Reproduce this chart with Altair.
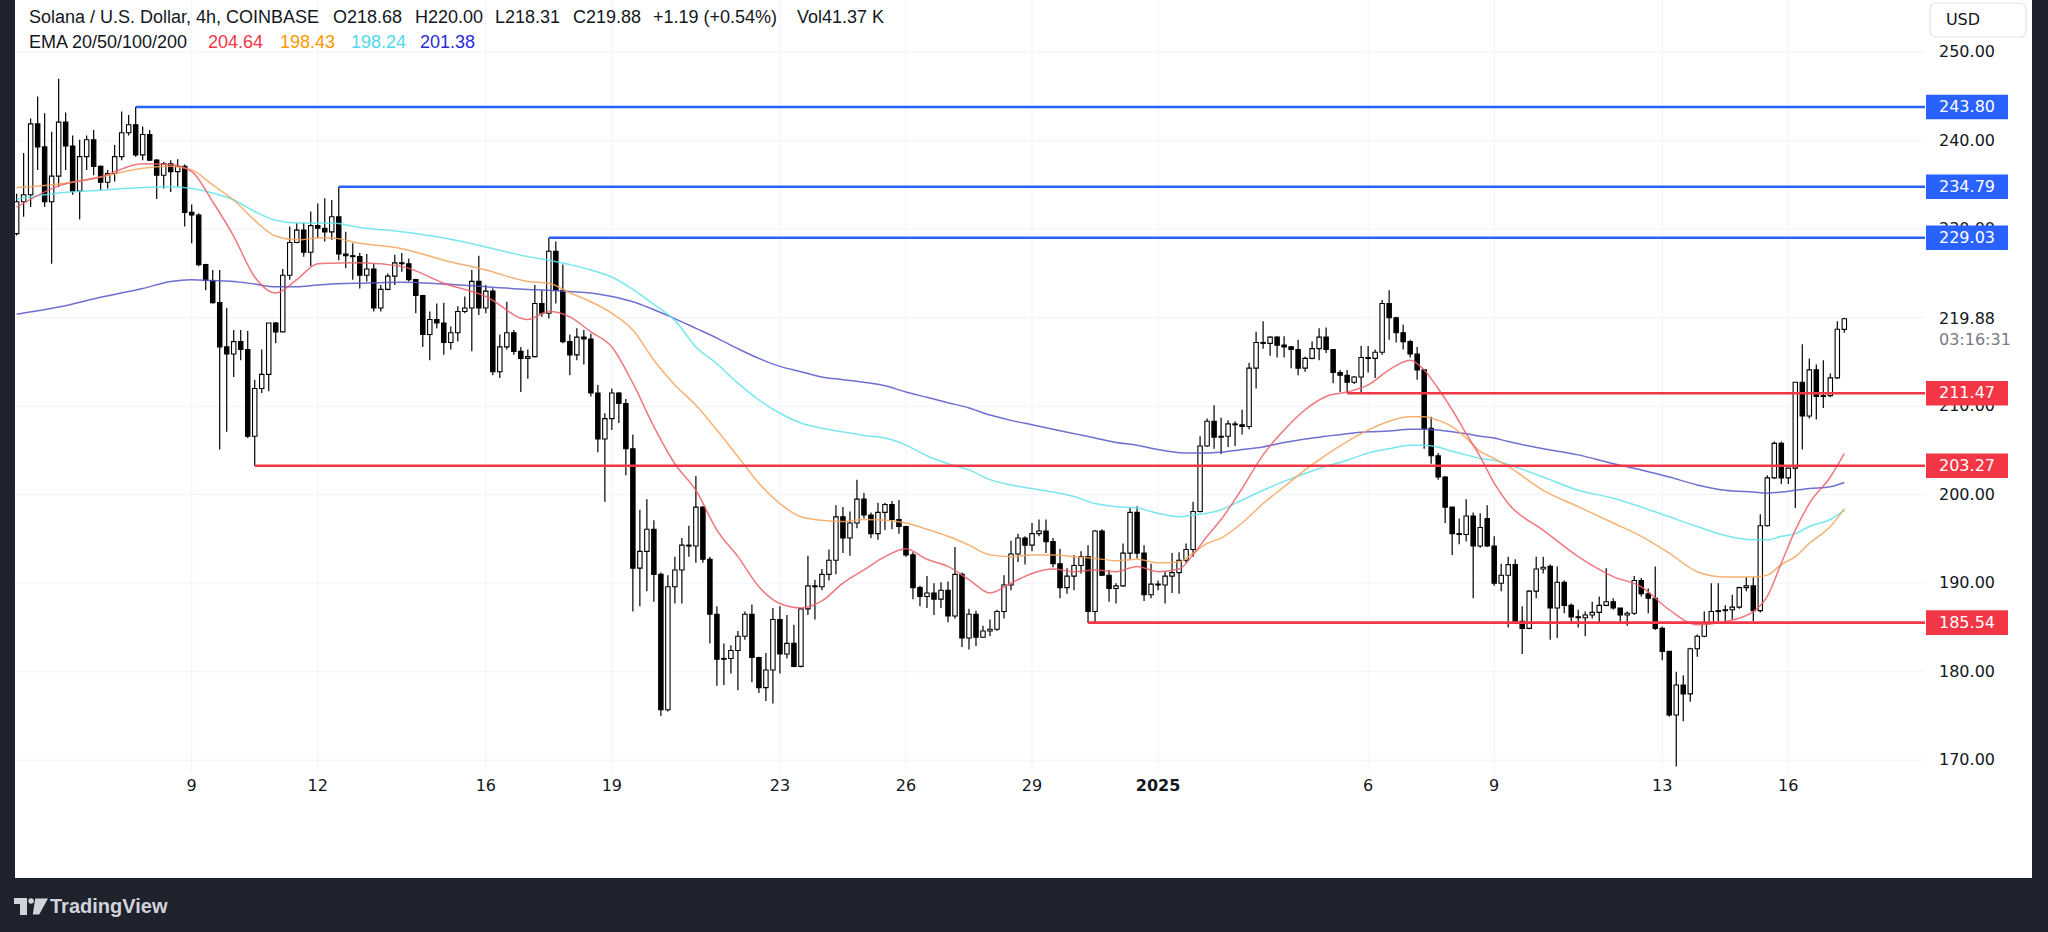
import altair as alt
import pandas as pd

# ---------------- data ----------------
first_idx = -25  # candle index 0 = Dec 9 00:00, 4h candles

opens = [
    229.5, 233.1, 233.9, 241.9, 239.3, 233.1, 236.0, 242.1, 239.4, 234.3,
    238.2, 240.1, 237.1, 235.3, 236.3, 238.2, 240.9, 241.8, 238.4, 240.7,
    237.8, 236.1, 237.4, 236.5, 237.1, 231.9, 231.6, 226.0, 224.2, 221.7,
    216.7, 215.9, 217.3, 216.4, 206.6, 212.0, 213.6, 219.4, 218.4, 224.8,
    228.5, 229.9, 227.4, 230.4, 230.1, 229.7, 231.4, 227.2, 227.0, 226.9,
    224.8, 225.5, 221.1, 223.2, 224.7, 226.2, 226.1, 224.3, 222.5, 218.1,
    219.8, 219.4, 217.2, 218.3, 220.7, 221.1, 224.1, 221.1, 223.0, 213.9,
    216.7, 218.3, 216.2, 215.4, 215.6, 221.6, 220.5, 227.5, 223.1, 217.3,
    215.8, 217.8, 217.6, 211.5, 206.3, 208.6, 211.5, 210.3, 205.2, 191.7,
    193.6, 196.1, 191.0, 175.7, 189.6, 191.5, 194.3, 194.2, 198.6, 192.7,
    186.5, 181.4, 181.5, 182.4, 184.0, 186.5, 181.6, 178.2, 180.2, 185.9,
    182.0, 183.2, 180.6, 187.1, 189.7, 189.6, 191.0, 192.6, 197.5, 195.1,
    196.8, 199.5, 197.7, 195.6, 198.0, 198.9, 197.2, 196.4, 193.2, 189.5,
    188.5, 188.9, 188.2, 189.2, 186.3, 191.0, 183.8, 186.5, 183.9, 184.6,
    184.8, 186.8, 189.8, 193.3, 195.1, 194.3, 195.6, 195.9, 194.7, 192.2,
    189.5, 190.8, 192.0, 193.0, 186.8, 195.9, 190.9, 189.4, 189.7, 193.4,
    198.0, 193.4, 188.7, 189.9, 189.8, 190.8, 191.2, 192.6, 193.8, 198.1,
    205.5, 208.3, 206.5, 206.6, 208.0, 207.9, 207.7, 214.3, 217.2, 217.1,
    217.8, 216.9, 216.7, 216.4, 214.3, 215.4, 216.5, 217.8, 216.4, 213.8,
    213.5, 212.7, 213.3, 215.5, 215.4, 216.1, 221.6, 220.0, 218.3, 217.3,
    215.9, 214.1, 207.5, 204.4, 202.0, 198.6, 195.6, 195.5, 197.6, 194.2,
    197.3, 194.2, 190.0, 190.9, 192.1, 185.7, 184.9, 189.1, 191.6, 191.9,
    187.2, 190.1, 187.5, 186.2, 186.1, 186.4, 186.7, 187.5, 187.9, 187.2,
    186.4, 186.6, 190.3, 188.8, 188.3, 184.9, 182.3, 175.1, 178.5, 177.5,
    182.6, 184.0, 185.5, 186.8, 186.9, 187.0, 187.3, 189.5, 189.7, 186.9,
    196.5, 201.9, 205.8, 201.9, 203.0, 212.7, 208.9, 214.1, 211.1, 211.2,
    213.2, 218.68,
]
highs = [
    234.0, 238.6, 242.5, 245.0, 243.1, 241.0, 247.0, 243.2, 240.6, 240.1,
    240.6, 241.2, 237.2, 236.7, 239.5, 243.3, 242.9, 243.8, 241.6, 241.2,
    237.9, 237.6, 237.8, 237.9, 237.3, 232.8, 231.8, 226.1, 225.4, 225.4,
    221.1, 218.6, 218.6, 218.5, 213.0, 216.4, 219.4, 219.5, 225.5, 230.3,
    230.7, 230.7, 232.0, 232.9, 233.5, 233.3, 234.79, 229.7, 228.4, 227.3,
    227.2, 226.1, 223.7, 225.0, 227.1, 227.3, 226.7, 224.4, 222.6, 220.7,
    221.6, 221.7, 219.0, 221.3, 222.4, 225.4, 227.0, 223.7, 223.3, 218.1,
    221.8, 218.6, 216.7, 216.4, 223.7, 223.1, 229.03, 228.6, 226.0, 218.1,
    218.8, 218.6, 218.2, 212.4, 209.2, 212.0, 211.6, 210.8, 206.8, 198.3,
    199.5, 197.1, 191.2, 190.9, 193.0, 195.1, 196.5, 202.1, 198.7, 193.0,
    187.4, 183.2, 183.0, 184.6, 186.8, 187.6, 181.7, 182.1, 187.2, 187.4,
    186.4, 185.3, 187.2, 193.1, 190.4, 191.6, 193.8, 198.8, 198.6, 198.1,
    201.7, 200.2, 198.0, 199.1, 199.1, 199.3, 199.4, 196.5, 193.5, 189.7,
    190.8, 190.0, 190.1, 190.2, 194.1, 191.2, 187.1, 186.9, 185.2, 185.9,
    187.0, 190.9, 194.8, 195.6, 195.3, 196.8, 197.2, 197.2, 195.1, 193.9,
    191.7, 193.2, 193.6, 194.3, 196.0, 196.1, 191.5, 190.0, 194.5, 198.5,
    198.7, 194.3, 192.2, 190.3, 191.3, 193.4, 193.5, 194.5, 199.2, 206.6,
    208.6, 210.1, 208.7, 208.4, 208.3, 209.6, 214.9, 218.4, 219.6, 217.9,
    217.9, 217.9, 216.8, 217.5, 215.6, 217.3, 218.8, 218.9, 216.4, 214.1,
    214.1, 213.4, 216.8, 216.8, 216.4, 222.0, 223.1, 220.1, 219.2, 217.5,
    216.7, 214.2, 208.8, 204.7, 202.1, 198.6, 197.3, 199.5, 198.0, 197.9,
    198.8, 195.3, 192.2, 193.0, 192.7, 187.4, 189.2, 193.0, 193.0, 192.1,
    191.9, 190.3, 187.7, 187.0, 186.8, 187.9, 188.5, 191.7, 188.3, 187.2,
    186.8, 190.8, 190.6, 189.4, 191.9, 185.1, 182.3, 180.0, 179.6, 182.7,
    184.2, 186.8, 190.0, 190.0, 187.5, 188.7, 189.6, 190.7, 190.7, 197.8,
    202.2, 206.0, 206.0, 203.0, 212.7, 217.0, 215.4, 214.7, 215.2, 213.7,
    219.6, 220.00,
]
lows = [
    229.3, 231.4, 232.5, 236.7, 232.5, 226.1, 234.8, 236.7, 233.9, 231.1,
    236.7, 236.1, 234.4, 234.6, 235.4, 237.8, 240.6, 238.2, 237.8, 237.7,
    233.4, 234.6, 234.2, 234.8, 230.3, 228.4, 225.8, 223.1, 221.6, 205.1,
    207.1, 213.3, 215.2, 206.4, 203.27, 211.5, 211.7, 217.1, 218.4, 224.3,
    228.4, 226.9, 225.8, 229.0, 228.6, 228.8, 226.5, 225.6, 224.3, 223.3,
    224.1, 220.7, 220.7, 223.1, 223.7, 225.2, 224.1, 220.5, 216.7, 215.2,
    218.8, 215.8, 216.4, 217.3, 220.5, 216.2, 220.3, 220.5, 213.5, 213.2,
    216.4, 215.8, 211.6, 213.1, 215.5, 220.1, 219.9, 221.6, 217.1, 213.5,
    215.2, 214.7, 211.1, 204.8, 199.2, 207.3, 208.1, 202.2, 186.8, 187.4,
    189.1, 187.9, 175.0, 175.5, 187.7, 187.7, 193.0, 192.3, 192.3, 183.2,
    178.4, 178.5, 179.8, 177.9, 183.6, 178.8, 177.6, 176.7, 176.4, 179.8,
    181.5, 180.5, 180.5, 186.4, 185.9, 189.2, 190.3, 191.0, 193.4, 193.1,
    196.2, 197.3, 195.1, 194.9, 196.0, 196.1, 195.6, 193.0, 188.2, 187.4,
    187.2, 186.4, 187.2, 185.6, 186.0, 182.8, 182.5, 182.9, 183.8, 184.0,
    184.6, 186.0, 189.2, 192.4, 192.1, 193.6, 195.3, 193.4, 191.8, 188.3,
    188.8, 189.2, 191.1, 185.5, 185.5, 190.8, 187.9, 187.7, 189.6, 192.7,
    192.8, 188.0, 188.3, 189.2, 187.7, 188.9, 188.8, 192.3, 193.0, 198.0,
    205.4, 205.2, 204.6, 205.4, 205.5, 206.8, 207.4, 212.0, 216.5, 215.7,
    215.5, 215.5, 214.3, 213.5, 213.9, 215.3, 215.2, 216.0, 212.6, 211.6,
    211.47, 212.5, 211.5, 213.8, 213.2, 215.8, 217.5, 217.2, 216.4, 215.5,
    213.0, 205.2, 203.5, 201.7, 196.8, 193.2, 194.4, 194.7, 188.3, 194.0,
    194.1, 189.7, 189.1, 185.0, 185.5, 182.0, 184.8, 188.3, 191.1, 183.6,
    183.8, 186.6, 185.5, 185.0, 184.0, 186.0, 185.6, 187.4, 187.0, 185.5,
    185.2, 186.4, 188.5, 186.6, 184.7, 181.3, 174.9, 169.3, 174.4, 176.6,
    181.7, 183.9, 185.4, 185.7, 185.7, 185.9, 187.1, 189.1, 185.7, 186.7,
    196.4, 201.8, 201.2, 201.2, 198.5, 205.1, 208.6, 208.5, 209.8, 211.0,
    213.1, 218.31,
]
closes = [
    233.1, 233.9, 241.9, 239.3, 233.1, 236.0, 242.1, 239.4, 234.3, 238.2,
    240.1, 237.1, 235.3, 236.3, 238.2, 240.9, 241.8, 238.4, 240.7, 237.8,
    236.1, 237.4, 236.5, 237.1, 231.9, 231.6, 226.0, 224.2, 221.7, 216.7,
    215.9, 217.3, 216.4, 206.6, 212.0, 213.6, 219.4, 218.4, 224.8, 228.5,
    229.9, 227.4, 230.4, 230.1, 229.7, 231.4, 227.2, 227.0, 226.9, 224.8,
    225.5, 221.1, 223.2, 224.7, 226.2, 226.1, 224.3, 222.5, 218.1, 219.8,
    219.4, 217.2, 218.3, 220.7, 221.1, 224.1, 221.1, 223.0, 213.9, 216.7,
    218.3, 216.2, 215.4, 215.6, 221.6, 220.5, 227.5, 223.1, 217.3, 215.8,
    217.8, 217.6, 211.5, 206.3, 208.6, 211.5, 210.3, 205.2, 191.7, 193.6,
    196.1, 191.0, 175.7, 189.6, 191.5, 194.3, 194.2, 198.6, 192.7, 186.5,
    181.4, 181.5, 182.4, 184.0, 186.5, 181.6, 178.2, 180.2, 185.9, 182.0,
    183.2, 180.6, 187.1, 189.7, 189.6, 191.0, 192.6, 197.5, 195.1, 196.8,
    199.5, 197.7, 195.6, 198.0, 198.9, 197.2, 196.4, 193.2, 189.5, 188.5,
    188.9, 188.2, 189.2, 186.3, 191.0, 183.8, 186.5, 183.9, 184.6, 184.8,
    186.8, 189.8, 193.3, 195.1, 194.3, 195.6, 195.9, 194.7, 192.2, 189.5,
    190.8, 192.0, 193.0, 186.8, 195.9, 190.9, 189.4, 189.7, 193.4, 198.0,
    193.4, 188.7, 189.9, 189.8, 190.8, 191.2, 192.6, 193.8, 198.1, 205.5,
    208.3, 206.5, 206.6, 208.0, 207.9, 207.7, 214.3, 217.2, 217.1, 217.8,
    216.9, 216.7, 216.4, 214.3, 215.4, 216.5, 217.8, 216.4, 213.8, 213.5,
    212.7, 213.3, 215.5, 215.4, 216.1, 221.6, 220.0, 218.3, 217.3, 215.9,
    214.1, 207.5, 204.4, 202.0, 198.6, 195.6, 195.5, 197.6, 194.2, 196.3,
    194.2, 190.0, 190.9, 192.1, 185.7, 184.9, 189.1, 191.6, 191.8, 187.2,
    190.1, 187.5, 186.2, 186.1, 186.4, 186.7, 187.5, 187.9, 187.2, 186.4,
    186.6, 190.3, 188.8, 188.3, 184.9, 182.3, 175.1, 178.5, 177.5, 182.6,
    184.0, 185.5, 186.8, 186.9, 187.0, 187.3, 189.5, 189.7, 186.9, 196.5,
    201.9, 205.8, 201.9, 203.0, 212.7, 208.9, 214.1, 211.1, 211.2, 213.2,
    218.7, 219.88,
]

ema_idx = [-25, -19, -13, -7, -3, 0, 3, 6, 9, 12, 15, 18, 20, 24, 30, 36, 42, 48, 51, 54,
           57, 60, 63, 66, 69, 72, 75, 78, 81, 84, 87, 90, 93, 96, 99, 102, 105, 108, 111, 114,
           117, 120, 123, 126, 129, 132, 135, 138, 141, 143, 145, 147, 150, 153, 156, 159, 162, 165, 168, 171,
           174, 176, 178, 180, 182, 184, 186, 188, 193, 198, 203, 207, 211, 215, 219, 223, 225, 227, 229, 231,
           234, 236]
ema20 = [232.5, 234.9, 235.9, 237.4, 237.3, 236.5, 233.1, 229.2, 224.6, 222.8,
         224.3, 226.1, 226.15, 226.2, 225.8, 223.9, 222.4, 219.8, 220.7, 220.1,
         218.4, 216.7, 212.6, 207.7, 203.5, 200.5, 196.0, 193.0, 189.6, 187.7,
         187.2, 188.0, 190.0, 191.5, 193.0, 193.9, 192.7, 191.9, 190.4, 188.9,
         190.0, 191.1, 191.6, 191.3, 191.5, 191.3, 191.9, 191.3, 191.6, 193.2,
         195.3, 197.2, 200.7, 204.5, 207.3, 209.6, 211.1, 211.6, 212.4, 214.1,
         215.2, 214.1, 212.0, 209.6, 206.9, 204.3, 201.3, 199.0, 196.0, 193.0,
         190.75, 189.6, 187.0, 185.3, 185.66, 186.8, 188.5, 192.25, 196.0, 199.0,
         202.0, 204.64]
ema50 = [234.7, 235.1, 235.9, 236.9, 237.1, 236.7, 235.0, 233.3, 231.0, 229.2,
         228.8, 229.0, 229.0, 228.4, 227.8, 226.5, 225.4, 224.1, 223.9, 222.8,
         221.8, 220.5, 218.6, 215.2, 212.4, 210.1, 207.3, 204.3, 201.3, 199.0,
         197.5, 197.1, 196.96, 197.2, 197.1, 196.8, 196.1, 195.3, 194.3, 193.2,
         193.0, 193.2, 193.2, 193.0, 192.8, 192.55, 192.7, 192.3, 192.4, 193.4,
         194.5, 195.1, 196.8, 199.0, 200.9, 202.8, 204.5, 206.0, 207.3, 208.3,
         208.8, 208.8, 208.4, 207.7, 206.4, 204.9, 204.1, 203.2, 200.5, 198.65,
         196.8, 195.3, 193.4, 191.3, 190.7, 190.7, 190.9, 192.1, 193.0, 194.5,
         196.4, 198.43]
ema100 = [233.4, 234.1, 234.4, 234.7, 234.8, 234.6, 234.1, 233.3, 232.0, 231.0,
          230.7, 230.7, 230.7, 230.2, 229.7, 229.0, 228.0, 226.9, 226.5, 226.0,
          225.4, 224.6, 223.2, 221.5, 219.7, 216.7, 214.8, 212.6, 210.7, 209.2,
          208.1, 207.5, 207.1, 206.7, 206.4, 205.6, 204.4, 203.5, 202.8, 201.7,
          201.1, 200.7, 200.3, 199.8, 199.0, 198.65, 198.5, 197.9, 197.5, 197.7,
          197.9, 198.3, 199.4, 200.5, 201.5, 202.4, 203.2, 203.9, 204.7, 205.2,
          205.6, 205.6, 205.4, 204.9, 204.5, 204.1, 203.9, 203.4, 202.0, 200.5,
          199.6, 198.6, 197.5, 196.4, 195.4, 194.9, 194.9, 195.3, 195.6, 196.4,
          197.2, 198.24]
ema200 = [220.4, 221.2, 222.3, 223.3, 224.1, 224.3, 224.2, 224.1, 223.8, 223.5,
          223.5, 223.7, 223.8, 223.9, 224.0, 223.8, 223.5, 223.2, 223.1, 222.95,
          222.8, 222.4, 221.8, 220.9, 219.9, 218.8, 217.7, 216.5, 215.4, 214.5,
          213.9, 213.3, 213.0, 212.7, 212.3, 211.6, 211.0, 210.4, 209.8, 209.0,
          208.4, 207.9, 207.4, 206.9, 206.4, 205.9, 205.6, 205.1, 204.75, 204.7,
          204.7, 204.8, 205.1, 205.4, 205.9, 206.3, 206.6, 206.9, 207.1, 207.2,
          207.4, 207.4, 207.3, 207.1, 206.9, 206.6, 206.4, 206.0, 205.2, 204.5,
          203.5, 202.8, 202.0, 201.1, 200.5, 200.3, 200.2, 200.3, 200.5, 200.7,
          200.9, 201.38]

level_prices = [243.80, 234.79, 229.03, 211.47, 203.27, 185.54]
level_start = [-8, 21, 51, 165, 9, 128]
level_kind = ["blue", "blue", "blue", "red", "red", "red"]

price_ticks = [250, 240, 230, 210, 200, 190, 180, 170]
grid_prices = [250, 240, 230, 220, 210, 200, 190, 180, 170]
day_idx = [0, 18, 42, 60, 84, 102, 120, 168, 186, 210, 228]
day_labels = ["9", "12", "16", "19", "23", "26", "29", "6", "9", "13", "16"]
year_idx = [138]
year_labels = ["2025"]
last_price = [219.88]
countdown = ["03:16:31"]

# ---------------- tables ----------------
n = len(closes)
assert len(opens) == n and len(highs) == n and len(lows) == n
candles = pd.DataFrame({
    "idx": list(range(first_idx, first_idx + n)),
    "o": opens, "h": highs, "l": lows, "c": closes,
})
candles["dir"] = ["up" if c >= o else "down" for o, c in zip(opens, closes)]
ema = pd.DataFrame({"idx": ema_idx, "e20": ema20, "e50": ema50, "e100": ema100, "e200": ema200})
levels = pd.DataFrame({"p": level_prices, "start": level_start, "kind": level_kind})
ticks = pd.DataFrame({"p": price_ticks})
grid = pd.DataFrame({"p": grid_prices})
days = pd.DataFrame({"idx": day_idx, "label": day_labels})
years = pd.DataFrame({"idx": year_idx, "label": year_labels})
lastp = pd.DataFrame({"p": last_price, "cd": countdown})
ONE = pd.DataFrame({"k": [0]})

# ---------------- scales ----------------
xs = alt.Scale(domain=[-27.3756, 265.0873], nice=False, zero=False, padding=0)
ys = alt.Scale(domain=[150.588, 255.898], nice=False, zero=False, padding=0)
X = lambda f: alt.X(f, scale=xs, axis=None)
Y = lambda f: alt.Y(f, scale=ys, axis=None)

INK = "#131722"
AXF = "DejaVu Sans"
HF = "Liberation Sans"
kind_color = alt.Color("kind:N", scale=alt.Scale(domain=["blue", "red"], range=["#2962ff", "#f23645"]), legend=None)


def box(x1, x2, y1, y2, color, **kw):
    return alt.Chart(ONE).mark_rect(color=color, **kw).encode(
        x=alt.value(x1), x2=alt.value(x2), y=alt.value(y1), y2=alt.value(y2))


def label(text, x, y, size=18, color=INK, font=HF, weight="normal", align="left"):
    return alt.Chart(ONE).mark_text(text=text, align=align, baseline="middle", font=font,
                                    fontSize=size, color=color, fontWeight=weight).encode(
        x=alt.value(x), y=alt.value(y))


panel = box(15, 2032, 0, 878, "#ffffff")

hgrid = alt.Chart(grid).mark_rule(color="#f0f3fa", strokeWidth=1).encode(
    y=Y("p:Q"), x=alt.value(15), x2=alt.value(1925))
vgrid = alt.Chart(pd.concat([days, years])).mark_rule(color="#f0f3fa", strokeWidth=1).encode(
    x=X("idx:Q"), y=alt.value(0), y2=alt.value(772))

wicks = alt.Chart(candles).mark_rule(color="#000000", strokeWidth=1.2).encode(
    x=X("idx:Q"), y=Y("l:Q"), y2="h:Q")
bodies = alt.Chart(candles).mark_bar(size=4.4, stroke="#000000", strokeWidth=1.1).encode(
    x=X("idx:Q"), y=Y("o:Q"), y2="c:Q",
    fill=alt.Fill("dir:N", scale=alt.Scale(domain=["up", "down"], range=["#ffffff", "#000000"]), legend=None))


def ema_line(col, color):
    return alt.Chart(ema).mark_line(color=color, strokeWidth=1.5, opacity=0.85, interpolate="monotone").encode(
        x=X("idx:Q"), y=Y(f"{col}:Q"))


emas = [ema_line("e200", "#5656c8"), ema_line("e100", "#5fe3ea"), ema_line("e50", "#f5a35a"),
        ema_line("e20", "#ec5f67")]

level_lines = alt.Chart(levels).mark_rule(strokeWidth=2.6).encode(
    x=X("start:Q"), x2=alt.value(1925), y=Y("p:Q"), color=kind_color)

left_mask = box(0, 15, 0, 932, "#1e222d")

tick_text = alt.Chart(ticks).mark_text(align="left", baseline="middle", font=AXF, fontSize=16, color=INK).encode(
    x=alt.value(1939), y=Y("p:Q"), text=alt.Text("p:Q", format=".2f"))
level_boxes = alt.Chart(levels).mark_point(
    shape="M-1,-0.3H1V0.3H-1Z", size=82 * 82, filled=True, opacity=1, strokeWidth=0).encode(
    x=alt.value(1967), y=Y("p:Q"), color=kind_color)
level_text = alt.Chart(levels).mark_text(align="left", baseline="middle", font=AXF, fontSize=16,
                                         color="#ffffff").encode(
    x=alt.value(1939), y=Y("p:Q"), text=alt.Text("p:Q", format=".2f"))
last_text = alt.Chart(lastp).mark_text(align="left", baseline="middle", font=AXF, fontSize=16, color=INK).encode(
    x=alt.value(1939), y=Y("p:Q"), text=alt.Text("p:Q", format=".2f"))
cd_text = alt.Chart(lastp).mark_text(align="left", baseline="middle", font=AXF, fontSize=16, color="#787b86",
                                     dy=21).encode(
    x=alt.value(1939), y=Y("p:Q"), text="cd:N")

usd_box = box(1930, 2026, 3, 37, "#ffffff", stroke="#e0e3eb", strokeWidth=1.2, cornerRadius=6)
usd_text = label("USD", 1963, 20, size=16, font=AXF, align="center")

day_text = alt.Chart(days).mark_text(align="center", baseline="middle", font=AXF, fontSize=16, color=INK).encode(
    x=X("idx:Q"), y=alt.value(786), text="label:N")
year_text = alt.Chart(years).mark_text(align="center", baseline="middle", font=AXF, fontSize=16, color=INK,
                                       fontWeight="bold").encode(
    x=X("idx:Q"), y=alt.value(786), text="label:N")

header = [
    label("Solana / U.S. Dollar, 4h, COINBASE", 29, 18),
    label("O218.68", 333, 18),
    label("H220.00", 415, 18),
    label("L218.31", 495, 18),
    label("C219.88", 573, 18),
    label("+1.19 (+0.54%)", 653, 18),
    label("Vol41.37 K", 797, 18),
    label("EMA 20/50/100/200", 29, 43),
    label("204.64", 208, 43, color="#f23645"),
    label("198.43", 280, 43, color="#ff9800"),
    label("198.24", 351, 43, color="#4fd8ef"),
    label("201.38", 420, 43, color="#2a2ad6"),
]

LOGO = "#d1d4dc"
logo = [
    box(14, 27, 898, 904, LOGO),
    box(20, 27, 898, 915, LOGO),
    alt.Chart(ONE).mark_point(shape="circle", size=30, filled=True, color=LOGO, opacity=1).encode(
        x=alt.value(31), y=alt.value(901)),
    alt.Chart(ONE).mark_point(shape="M-0.6,-1H1L-0.1,1H-0.9Z", size=256, filled=True, color=LOGO,
                              opacity=1, strokeWidth=0).encode(x=alt.value(40), y=alt.value(906.5)),
    label("TradingView", 50, 907, size=20, color=LOGO, weight="bold"),
]

chart = alt.layer(
    panel, hgrid, vgrid, wicks, bodies, *emas, level_lines, left_mask,
    tick_text, level_boxes, level_text, last_text, cd_text,
    usd_box, usd_text, day_text, year_text, *header, *logo,
).properties(
    width=2048, height=932, padding=0, background="#1e222d",
    autosize=alt.AutoSizeParams(type="none"),
).configure_view(strokeWidth=0)

chart.save("out.html", embed_options={"renderer": "svg", "actions": False})
